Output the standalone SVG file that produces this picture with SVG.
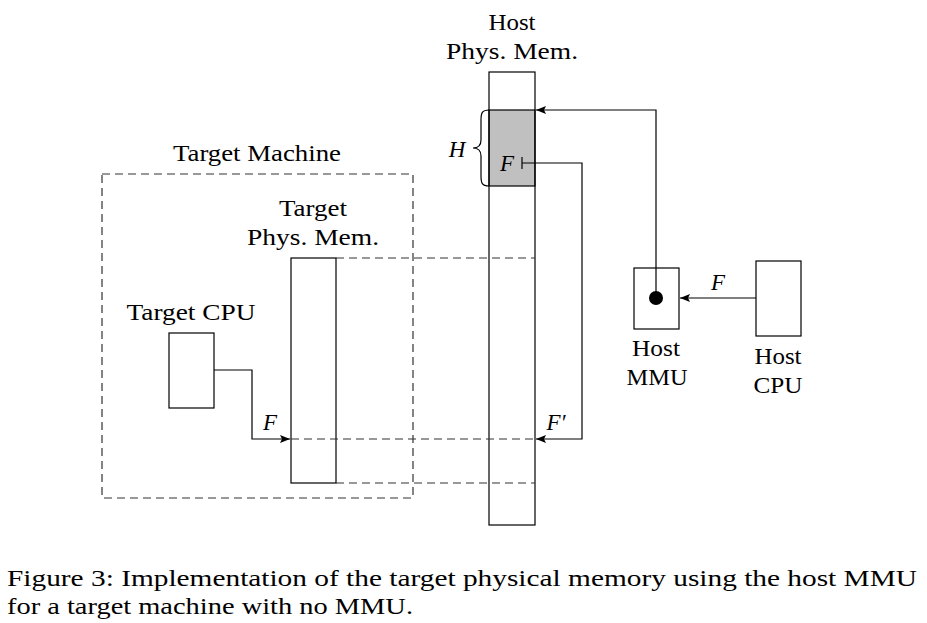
<svg xmlns="http://www.w3.org/2000/svg" width="927" height="623" viewBox="0 0 927 623">
<defs>
<style>
.box{fill:none;stroke:#000;stroke-width:1.2}
.ln{fill:none;stroke:#000;stroke-width:1.2}
.dash{fill:none;stroke:#333;stroke-width:1.2;stroke-dasharray:8,5}
.t{font-family:"Liberation Serif","Times New Roman",serif;font-size:23px;fill:#000;text-anchor:middle}
.i{font-family:"Liberation Serif","Times New Roman",serif;font-size:23px;font-style:italic;fill:#000;text-anchor:middle}
.cap{font-family:"Liberation Serif","Times New Roman",serif;font-size:23px;fill:#000}
</style>
<marker id="ah" viewBox="0 0 10 8" refX="10" refY="4" markerWidth="10" markerHeight="8" markerUnits="userSpaceOnUse" orient="auto">
<path d="M0,0 L10,4 L0,8 L2,4 Z" fill="#000"/>
</marker>
</defs>
<rect width="927" height="623" fill="#fff"/>

<g id="target-machine">
<rect x="102" y="174" width="311" height="324" class="dash"/>
<text x="257" y="161" class="t" textLength="168" lengthAdjust="spacingAndGlyphs">Target Machine</text>
</g>

<g id="target-cpu">
<rect x="169" y="333" width="45" height="75" class="box"/>
<text x="191" y="320" class="t" textLength="129" lengthAdjust="spacingAndGlyphs">Target CPU</text>
</g>

<g id="target-phys-mem">
<rect x="291" y="258" width="45" height="225" class="box"/>
<text x="313" y="216" class="t" textLength="68" lengthAdjust="spacingAndGlyphs">Target</text>
<text x="313" y="245" class="t" textLength="132" lengthAdjust="spacingAndGlyphs">Phys. Mem.</text>
</g>

<g id="host-phys-mem">
<rect x="489" y="110" width="46" height="76" fill="#c0c0c0" stroke="#000" stroke-width="1.2"/>
<rect x="489" y="72" width="46" height="453" class="box"/>
<text x="512" y="30" class="t" textLength="47" lengthAdjust="spacingAndGlyphs">Host</text>
<text x="512" y="59" class="t" textLength="132" lengthAdjust="spacingAndGlyphs">Phys. Mem.</text>
<path d="M489,110 C482,110 481,113 481,120 L481,140 C481,146 478,148 473,148 C478,148 481,150 481,156 L481,176 C481,183 482,186 489,186" class="ln" stroke-width="1"/>
<text x="457" y="157" class="i">H</text>
<text x="507" y="171" class="i">F</text>
</g>

<g id="host-mmu">
<rect x="634" y="268" width="45" height="61" class="box"/>
<circle cx="656" cy="298" r="7" fill="#000"/>
<text x="656" y="356" class="t" textLength="48" lengthAdjust="spacingAndGlyphs">Host</text>
<text x="657" y="385" class="t" textLength="61" lengthAdjust="spacingAndGlyphs">MMU</text>
</g>

<g id="host-cpu">
<rect x="756" y="261" width="45" height="75" class="box"/>
<text x="778" y="364" class="t" textLength="47" lengthAdjust="spacingAndGlyphs">Host</text>
<text x="778" y="393" class="t" textLength="49" lengthAdjust="spacingAndGlyphs">CPU</text>
</g>

<g id="connectors">
<path d="M336,258 H535" class="dash"/>
<path d="M291,439 H535" class="dash"/>
<path d="M336,483 H535" class="dash"/>
<path d="M214,370 H252 V439 H290" class="ln" marker-end="url(#ah)"/>
<path d="M522,163 H582 V439 H536" class="ln" marker-end="url(#ah)"/>
<path d="M522,157 V169" class="ln"/>
<path d="M656,298 V110 H536" class="ln" marker-end="url(#ah)"/>
<path d="M756,298 H680" class="ln" marker-end="url(#ah)"/>
<text x="270" y="430" class="i">F</text>
<text x="556" y="430" class="i">F′</text>
<text x="718" y="290" class="i">F</text>
</g>

<g id="caption">
<text x="7" y="586" class="cap" textLength="910" lengthAdjust="spacingAndGlyphs">Figure 3: Implementation of the target physical memory using the host MMU</text>
<text x="7" y="614" class="cap" textLength="406" lengthAdjust="spacingAndGlyphs">for a target machine with no MMU.</text>
</g>
</svg>
